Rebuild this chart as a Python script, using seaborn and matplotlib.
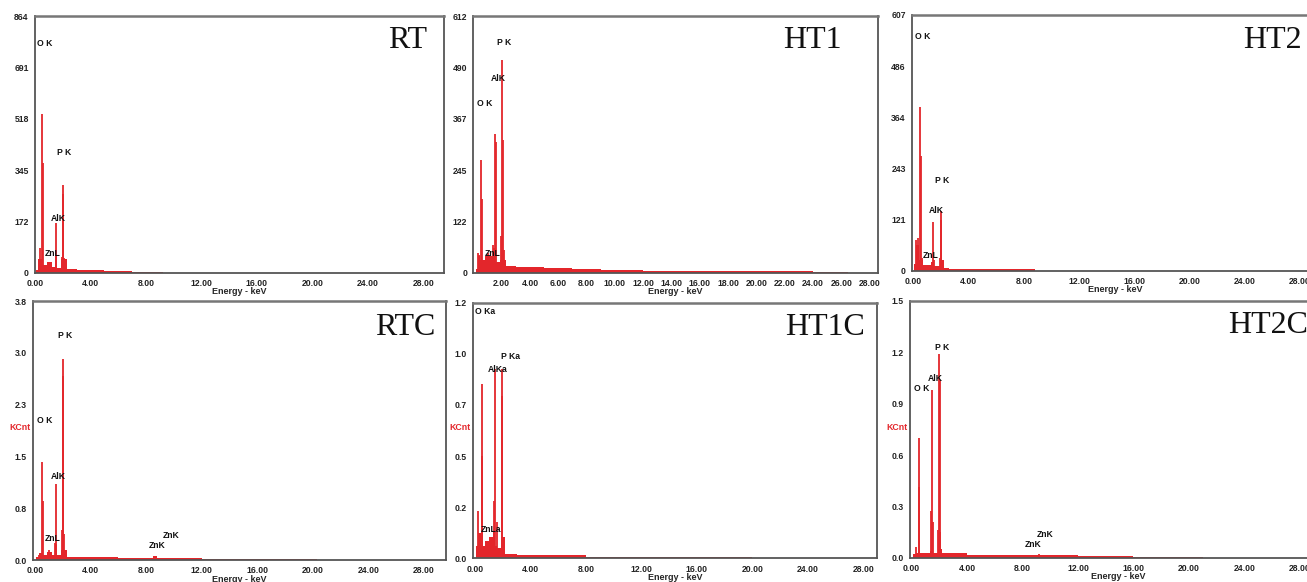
import numpy as np
import matplotlib
matplotlib.use("Agg")
import matplotlib.pyplot as plt
import seaborn as sns

W, H = 1307, 582
RED = "#e3262b"

# ---- spectra: sharp lines (energy keV, height) and background levels (step, keV) ----
RT_E = [0.30, 0.36, 0.53, 0.56, 1.02, 1.49, 1.52, 1.96, 2.00, 2.03, 2.07]
RT_C = [45, 82, 534, 368, 37, 166, 60, 54, 295, 264, 50]
RT_BG_E = [0.05, 0.2, 0.5, 0.9, 1.2, 1.45, 1.9, 2.3, 3.0, 4.0, 5.0, 6.0, 7.0, 8.0, 9.2]
RT_BG_C = [10, 45, 25, 35, 20, 15, 45, 12, 10, 9, 7, 6, 4, 2, 0]

HT1_E = [0.30, 0.40, 0.56, 0.63, 1.05, 1.40, 1.50, 1.58, 1.95, 2.05, 2.10, 2.14]
HT1_C = [46, 42, 269, 176, 46, 66, 330, 312, 87, 507, 316, 55]
HT1_BG_E = [0.15, 0.3, 0.5, 0.8, 1.4, 1.5, 1.9, 2.3, 3.0, 5.0, 7.0, 9.0, 12.0, 16.0, 20.0, 24.0, 26.5]
HT1_BG_C = [10, 40, 30, 40, 60, 25, 30, 16, 13, 11, 9, 7, 5, 4, 3, 2.5, 0]

HT2_E = [0.22, 0.30, 0.48, 0.54, 0.62, 1.45, 1.50, 1.92, 1.98, 2.03]
HT2_C = [73, 78, 389, 272, 30, 116, 25, 30, 142, 120]
HT2_BG_E = [0.05, 0.2, 0.4, 0.7, 1.3, 1.45, 1.9, 2.2, 2.6, 4.0, 6.0, 8.8]
HT2_BG_C = [15, 60, 25, 14, 20, 10, 25, 7, 5, 4, 3, 0]

RTC_E = [0.28, 0.53, 0.57, 1.00, 1.45, 1.49, 1.53, 1.95, 1.99, 2.03, 2.08, 8.60]
RTC_C = [0.08, 1.44, 0.87, 0.15, 0.25, 1.11, 0.24, 0.44, 2.95, 2.70, 0.38, 0.06]
RTC_BG_E = [0.1, 0.3, 0.5, 0.9, 1.2, 1.45, 1.9, 2.3, 4.0, 6.0, 8.0, 8.5, 8.8, 12.0, 16.0, 20.0, 20.3]
RTC_BG_C = [0.05, 0.10, 0.07, 0.12, 0.07, 0.08, 0.15, 0.05, 0.04, 0.035, 0.03, 0.06, 0.025, 0.015, 0.01, 0.008, 0]

HT1C_E = [0.22, 0.48, 0.53, 1.40, 1.44, 1.56, 1.92, 1.96]
HT1C_C = [0.22, 0.82, 0.48, 0.27, 0.89, 0.17, 0.89, 0.76]
HT1C_BG_E = [0.1, 0.22, 0.45, 0.7, 1.0, 1.3, 1.45, 1.6, 1.9, 2.2, 3.0, 5.0, 8.0, 10.0, 14.0, 20.0]
HT1C_BG_C = [0.06, 0.12, 0.06, 0.08, 0.10, 0.13, 0.06, 0.05, 0.10, 0.022, 0.017, 0.014, 0.008, 0.005, 0.004, 0]

HT2C_E = [0.28, 0.50, 0.55, 1.39, 1.44, 1.51, 1.93, 1.97, 2.02, 2.06, 3.50, 9.20]
HT2C_C = [0.065, 0.70, 0.415, 0.27, 0.98, 0.21, 0.16, 1.19, 1.04, 0.15, 0.03, 0.02]
HT2C_BG_E = [0.1, 0.3, 0.45, 1.3, 1.45, 1.9, 2.2, 4.0, 8.0, 12.0, 16.0, 21.0]
HT2C_BG_C = [0.02, 0.03, 0.025, 0.04, 0.03, 0.05, 0.025, 0.018, 0.013, 0.009, 0.006, 0]

# ---- axes scales and tick labels ----
RT_YMAX, RT_YTICKS = 864, ["0", "172", "345", "518", "691", "864"]
HT1_YMAX, HT1_YTICKS = 612, ["0", "122", "245", "367", "490", "612"]
HT2_YMAX, HT2_YTICKS = 607, ["0", "121", "243", "364", "486", "607"]
RTC_YMAX, RTC_YTICKS = 3.8, ["0.0", "0.8", "1.5", "2.3", "3.0", "3.8"]
HT1C_YMAX, HT1C_YTICKS = 1.2, ["0.0", "0.2", "0.5", "0.7", "1.0", "1.2"]
HT2C_YMAX, HT2C_YTICKS = 1.5, ["0.0", "0.3", "0.6", "0.9", "1.2", "1.5"]

XT_0_28_4 = [0, 4, 8, 12, 16, 20, 24, 28]
XT_2_28_2 = [2, 4, 6, 8, 10, 12, 14, 16, 18, 20, 22, 24, 26, 28]

# ---- peak labels: (text, energy, height) ----
RT_LABELS = [("O K", 0.12, 772), ("P K", 1.61, 405), ("AlK", 1.15, 181), ("ZnL", 0.67, 65)]
HT1_LABELS = [("P K", 1.69, 548), ("AlK", 1.24, 462), ("O K", 0.23, 404), ("ZnL", 0.77, 46)]
HT2_LABELS = [("O K", 0.12, 557), ("P K", 1.57, 213), ("AlK", 1.13, 142), ("ZnL", 0.65, 36)]
RTC_LABELS = [("P K", 1.63, 3.30), ("O K", 0.17, 2.05), ("AlK", 1.15, 1.22), ("ZnL", 0.67, 0.32),
              ("ZnK", 9.17, 0.36), ("ZnK", 8.20, 0.215)]
HT1C_LABELS = [("O Ka", 0.0, 1.158), ("P Ka", 1.85, 0.947), ("AlKa", 0.91, 0.887), ("ZnLa", 0.43, 0.136)]
HT2C_LABELS = [("P K", 1.68, 1.23), ("AlK", 1.13, 1.045), ("O K", 0.17, 0.99),
               ("ZnK", 9.06, 0.133), ("ZnK", 8.13, 0.076)]

# name, lines, background, ymax, yticklabels, xticks, labels,
# axes box in px (left, top, right, bottom), xlim, title anchor (right, baseline), KCnt x px
PANELS = [
    ("RT", RT_E, RT_C, RT_BG_E, RT_BG_C, RT_YMAX, RT_YTICKS, XT_0_28_4, RT_LABELS,
     (35, 16, 444, 272.7), (0, 29.5), (427, 48), None),
    ("HT1", HT1_E, HT1_C, HT1_BG_E, HT1_BG_C, HT1_YMAX, HT1_YTICKS, XT_2_28_2, HT1_LABELS,
     (473.4, 16, 878, 272.7), (0, 28.6), (842, 48), None),
    ("HT2", HT2_E, HT2_C, HT2_BG_E, HT2_BG_C, HT2_YMAX, HT2_YTICKS, XT_0_28_4, HT2_LABELS,
     (912, 15, 1319, 270.7), (-0.1, 29.4), (1302, 48), None),
    ("RTC", RTC_E, RTC_C, RTC_BG_E, RTC_BG_C, RTC_YMAX, RTC_YTICKS, XT_0_28_4, RTC_LABELS,
     (33.3, 301, 445.7, 560), (-0.12, 29.56), (435, 335), 9),
    ("HT1C", HT1C_E, HT1C_C, HT1C_BG_E, HT1C_BG_C, HT1C_YMAX, HT1C_YTICKS, XT_0_28_4, HT1C_LABELS,
     (473.3, 302.7, 876.7, 558.3), (-0.12, 28.96), (865, 335), 449),
    ("HT2C", HT2C_E, HT2C_C, HT2C_BG_E, HT2C_BG_C, HT2C_YMAX, HT2C_YTICKS, XT_0_28_4, HT2C_LABELS,
     (910, 301, 1326, 557.7), (-0.12, 29.9), (1308, 333), 886),
]


def draw_panel(fig, p):
    (name, e, c, bg_e, bg_c, ymax, ytl, xt, labels, box, xlim, title_pos, kcnt_x) = p
    l, t, r, b = box
    ax = fig.add_axes([l / W, 1 - b / H, (r - l) / W, (b - t) / H])

    ax.fill_between(bg_e, 0, bg_c, step="post", color=RED, linewidth=0)
    ax.vlines(e, 0, c, color=RED, linewidth=1.3)

    ax.set_xlim(*xlim)
    ax.set_ylim(0, ymax)
    ax.set_yticks(np.linspace(0, ymax, 6))
    ax.set_yticklabels(ytl)
    ax.set_xticks(xt)
    ax.set_xticklabels([f"{v:.2f}" for v in xt])
    ax.tick_params(axis="both", direction="out", length=3, width=1, pad=1.5,
                   labelsize=6.2, colors="#222222")
    for lab in ax.get_xticklabels() + ax.get_yticklabels():
        lab.set_fontweight("bold")
    ax.set_xlabel("Energy - keV", fontsize=6.5, fontweight="bold", labelpad=-0.5)
    for s in ax.spines.values():
        s.set_color("#555555")
        s.set_linewidth(1.3)
    ax.spines["top"].set_linewidth(1.8)
    ax.spines["top"].set_color("#777777")

    for text, x, y in labels:
        ax.text(x, y, text, fontsize=6.2, fontweight="bold", ha="left", va="center",
                color="#111111")

    fig.text(title_pos[0] / W, 1 - title_pos[1] / H, name, ha="right", va="baseline",
             fontsize=23, family="Liberation Serif", color="#111111")
    if kcnt_x is not None:
        fig.text(kcnt_x / W, 1 - 428 / H, "KCnt", ha="left", va="center", fontsize=6.3,
                 fontweight="bold", color=RED)
    return ax


def main():
    sns.set_style("white")
    plt.rcParams["font.family"] = ["Liberation Sans", "DejaVu Sans"]
    fig = plt.figure(figsize=(W / 100, H / 100), dpi=100)
    for p in PANELS:
        draw_panel(fig, p)
    fig.savefig("out.png", dpi=100, facecolor="white")


if __name__ == "__main__":
    main()
